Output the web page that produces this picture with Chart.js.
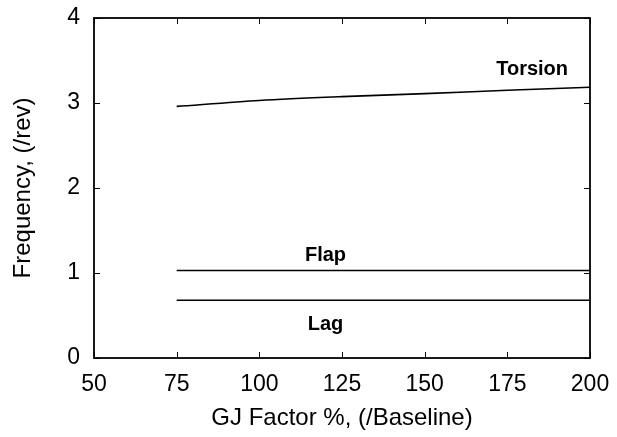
<!DOCTYPE html>
<html lang="en">
<head>
<meta charset="UTF-8">
<title>Frequency vs GJ Factor</title>
<script src="https://cdn.jsdelivr.net/npm/chart.js"></script>
<style>
  body { margin: 0; background: #fff; }
</style>
</head>
<body>

<div style="width: 617px; height: 437px;">
    <canvas id="freqChart"></canvas>
</div>

<script>
    // values
    var gjFactor = [75, 100, 125, 150, 175, 200];
    var torsion = [2.96, 3.03, 3.075, 3.11, 3.15, 3.185];
    var flap = [1.03, 1.03, 1.03, 1.03, 1.03, 1.03];
    var lag = [0.68, 0.68, 0.68, 0.68, 0.68, 0.68];

    var curveLabels = [
        { text: 'Torsion', x: 182.5, y: 3.39 },
        { text: 'Flap', x: 120, y: 1.21 },
        { text: 'Lag', x: 120, y: 0.39 }
    ];

    function toPoints(ys) {
        return gjFactor.map(function(x, i) { return { x: x, y: ys[i] }; });
    }

    var FONT = "'Liberation Sans', Arial, sans-serif";

    // frame, inward ticks and curve labels
    var framePlugin = {
        id: 'frame',
        afterDraw: function(chart) {
            var c = chart.ctx, a = chart.chartArea;
            var xs = chart.scales.x, ys = chart.scales.y;
            c.save();
            c.strokeStyle = '#000';
            c.lineWidth = 1.8;
            c.strokeRect(a.left, a.top, a.right - a.left, a.bottom - a.top);
            c.lineWidth = 1;
            xs.ticks.forEach(function(t) {
                var px = Math.round(xs.getPixelForValue(t.value)) + 0.5;
                c.beginPath();
                c.moveTo(px, a.bottom); c.lineTo(px, a.bottom - 6);
                c.moveTo(px, a.top); c.lineTo(px, a.top + 6);
                c.stroke();
            });
            ys.ticks.forEach(function(t) {
                var py = Math.round(ys.getPixelForValue(t.value)) + 0.5;
                c.beginPath();
                c.moveTo(a.left, py); c.lineTo(a.left + 6, py);
                c.moveTo(a.right, py); c.lineTo(a.right - 6, py);
                c.stroke();
            });
            c.fillStyle = '#000';
            c.font = 'bold 20px ' + FONT;
            c.textAlign = 'center';
            c.textBaseline = 'middle';
            curveLabels.forEach(function(l) {
                c.fillText(l.text, xs.getPixelForValue(l.x), ys.getPixelForValue(l.y));
            });
            c.restore();
        }
    };

    function lineSet(label, ys) {
        return {
            label: label,
            data: toPoints(ys),
            borderColor: '#000',
            borderWidth: 1.6,
            pointRadius: 0,
            fill: false,
            tension: 0.3
        };
    }

    var ctx = document.getElementById('freqChart').getContext('2d');
    var freqChart = new Chart(ctx, {
        type: 'line',
        data: {
            datasets: [
                lineSet('Torsion', torsion),
                lineSet('Flap', flap),
                lineSet('Lag', lag)
            ]
        },
        options: {
            responsive: true,
            maintainAspectRatio: false,
            animation: false,
            layout: {
                padding: { top: 18, right: 27, left: 0, bottom: 0 }
            },
            plugins: {
                legend: { display: false },
                tooltip: { enabled: false }
            },
            scales: {
                x: {
                    type: 'linear',
                    min: 50,
                    max: 200,
                    afterFit: function(s) { s.height = 79; },
                    // tickLength only spaces the labels; grid itself is hidden
                    grid: { display: false, drawTicks: true, tickLength: 13 },
                    border: { display: false },
                    ticks: {
                        stepSize: 25,
                        padding: 0,
                        color: '#000',
                        font: { family: FONT, size: 23 }
                    },
                    title: {
                        display: true,
                        text: 'GJ Factor %, (/Baseline)',
                        color: '#000',
                        padding: { top: 4, bottom: 4 },
                        font: { family: FONT, size: 24 }
                    }
                },
                y: {
                    min: 0,
                    max: 4,
                    afterFit: function(s) { s.width = 94; },
                    grid: { display: false, drawTicks: true, tickLength: 14 },
                    border: { display: false },
                    ticks: {
                        stepSize: 1,
                        padding: 0,
                        color: '#000',
                        font: { family: FONT, size: 23 }
                    },
                    title: {
                        display: true,
                        text: 'Frequency, (/rev)',
                        color: '#000',
                        padding: { top: 9, bottom: 4 },
                        font: { family: FONT, size: 24 }
                    }
                }
            }
        },
        plugins: [framePlugin]
    });
</script>

</body>
</html>
